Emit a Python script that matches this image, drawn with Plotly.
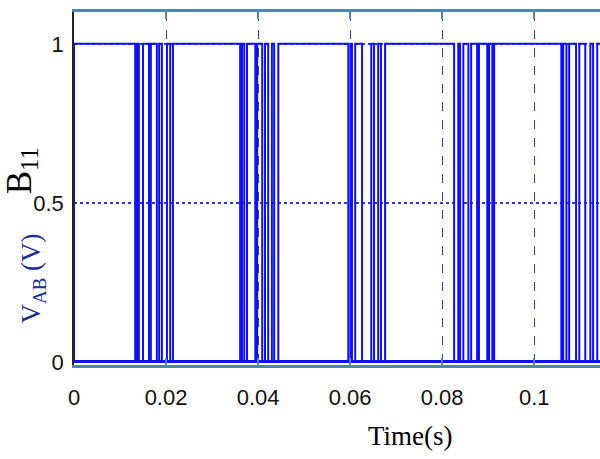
import plotly.graph_objects as go

# switching instants (s) of B11; the signal starts at 1 and toggles at each instant
group1 = [0.0133, 0.0137, 0.0141, 0.0150, 0.0163, 0.0167, 0.0180, 0.0185, 0.0191, 0.0202, 0.0209, 0.0215]
group2 = [0.0361, 0.0365, 0.0370, 0.0376, 0.0394, 0.0398, 0.0409, 0.0415, 0.0422, 0.0430, 0.0435, 0.0444]
group3 = [0.0596, 0.0601, 0.0604, 0.0611, 0.0626, 0.0646, 0.0652, 0.0661, 0.0667, 0.0676]
group4 = [0.0826, 0.0835, 0.0839, 0.0846, 0.0857, 0.0863, 0.0876, 0.0880, 0.0898, 0.0902, 0.0909, 0.0913]
group5 = [0.1059, 0.1063, 0.1070, 0.1076, 0.1091, 0.1098, 0.1111, 0.1122, 0.1128, 0.1137]
t_end = 0.116

x_ticks = [0, 0.02, 0.04, 0.06, 0.08, 0.1]
x_labels = ["0", "0.02", "0.04", "0.06", "0.08", "0.1"]
y_ticks = [0, 0.5, 1]
y_labels = ["0", "0.5", "1"]

# build step waveform
xs = [0.0, 0.0]
ys = [0, 1]
level = 1
for t in group1 + group2 + group3 + group4 + group5:
    level = 1 - level
    xs.append(t)
    ys.append(level)
xs.append(t_end)
ys.append(level)

fig = go.Figure()
fig.add_trace(go.Scatter(x=xs, y=ys, mode="lines", line=dict(color="#1010f0", width=2, shape="hv"),
                         showlegend=False, hoverinfo="skip"))

tick_font = dict(family="Liberation Sans, Arial", size=22, color="#111111")

fig.update_layout(
    width=600, height=459,
    margin=dict(l=74, r=0, t=12, b=94),
    paper_bgcolor="white", plot_bgcolor="white",
    xaxis=dict(range=[0, 0.1143], tickvals=x_ticks, ticktext=x_labels,
               showgrid=True, gridcolor="#2a3fb8", griddash="dash", gridwidth=1,
               zeroline=False, showline=True, linecolor="#4f86b0", linewidth=2.5,
               mirror="ticks", ticks="inside", ticklen=7, tickcolor="#4f86b0", tickwidth=1.5,
               tickfont=tick_font, ticklabelstandoff=11),
    yaxis=dict(range=[-0.01, 1.1], tickvals=y_ticks, ticktext=y_labels,
               showgrid=True, gridcolor="#2a3fd0", griddash="dot", gridwidth=2,
               zeroline=True, zerolinecolor="#1010f0", zerolinewidth=2.5,
               showline=True, linecolor="#222222", linewidth=1.5,
               ticks="", tickfont=tick_font, ticklabelstandoff=4),
    annotations=[
        dict(text="Time(s)", x=0.64, xref="paper", y=-0.2, yref="paper", showarrow=False,
             font=dict(family="Liberation Serif, Times New Roman", size=27, color="black"),
             xanchor="center", yanchor="middle"),
        dict(text="B<sub>11</sub>", x=-0.1, xref="paper", y=0.55, yref="paper", showarrow=False,
             textangle=-90, font=dict(family="Liberation Serif, Times New Roman", size=35, color="black"),
             xanchor="center", yanchor="middle"),
        dict(text="V<sub>AB</sub> (V)", x=-0.078, xref="paper", y=0.245, yref="paper", showarrow=False,
             textangle=-90, font=dict(family="Liberation Serif, Times New Roman", size=27, color="#1b2f8f"),
             xanchor="center", yanchor="middle"),
    ],
)

fig.write_html("out.html")
